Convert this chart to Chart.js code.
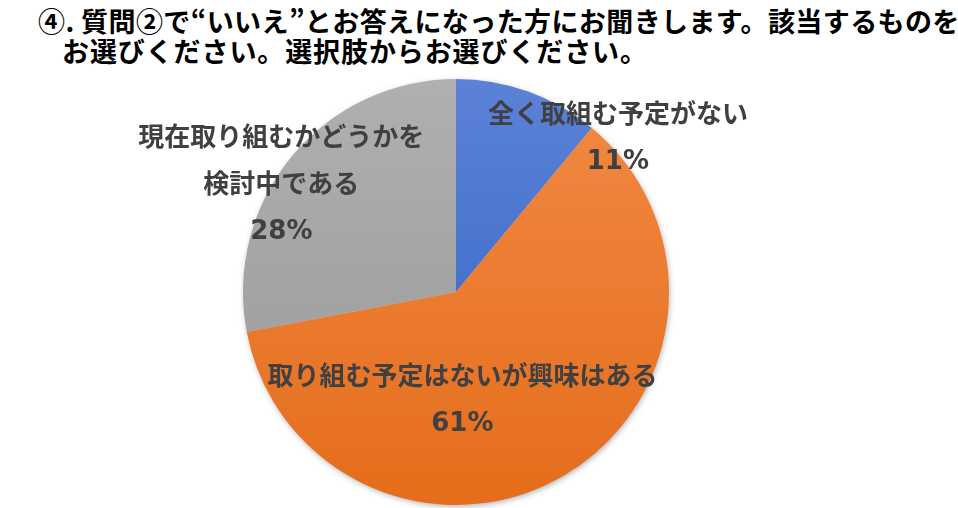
<!DOCTYPE html>
<html lang="ja">
<head>
<meta charset="utf-8">
<script src="https://cdn.jsdelivr.net/npm/chart.js@4/dist/chart.umd.min.js"></script>
<style>
	html, body { margin: 0; padding: 0; background: #fff; }
	#wrap { position: relative; width: 958px; height: 508px; overflow: hidden; }
	#titulo {
		position: absolute; left: 38px; top: 6px; margin: 0;
		font-family: "Noto Sans CJK JP", sans-serif; font-weight: bold;
		font-size: 27px; line-height: 30px; letter-spacing: 0.4px; color: #000; white-space: nowrap;
	}
	#titulo span { display: block; }
	#titulo .l2 { padding-left: 24px; letter-spacing: 0.9px; }
	canvas { position: absolute; left: 0; top: 0; }
</style>
</head>
<body>
<div id="wrap">
	<h1 id="titulo"><span>④. 質問②で“いいえ”とお答えになった方にお聞きします。該当するものを</span><span class="l2">お選びください。選択肢からお選びください。</span></h1>
	<canvas id="graficoPizza" width="958" height="508"></canvas>
</div>
<script>
// dados do grafico
var categorias = ['全く取組む予定がない', '取り組む予定はないが興味はある', '現在取り組むかどうかを\n検討中である'];
var valores = [11, 61, 28];
var rotulos = ['11%', '61%', '28%'];

// cores (topo -> base) de cada fatia
var coresTopo = ['#5c82d7', '#f28a45', '#b0b0b0'];
var coresBase = ['#2f61c4', '#e56d1b', '#979797'];
// posicao do rotulo em relacao ao centro, em unidades de raio
var posRotulos = [[0.76, -0.73], [0.03, 0.50], [-0.82, -0.51]];

function gradiente(context) {
	var chart = context.chart;
	var area = chart.chartArea;
	var i = context.dataIndex;
	if (!area) return coresTopo[i];
	var g = chart.ctx.createLinearGradient(0, area.top, 0, area.bottom);
	g.addColorStop(0, coresTopo[i]);
	g.addColorStop(1, coresBase[i]);
	return g;
}

var sombraPizza = {
	id: 'sombraPizza',
	beforeDatasetsDraw: function(chart) {
		var arco = chart.getDatasetMeta(0).data[0];
		if (!arco) return;
		var ctx = chart.ctx;
		ctx.save();
		ctx.shadowColor = 'rgba(0,0,0,0.35)';
		ctx.shadowBlur = 6;
		ctx.shadowOffsetX = 1;
		ctx.shadowOffsetY = 2;
		ctx.fillStyle = '#cccccc';
		ctx.beginPath();
		ctx.arc(arco.x, arco.y, arco.outerRadius - 1, 0, Math.PI * 2);
		ctx.fill();
		ctx.restore();
	}
};

var rotulosPizza = {
	id: 'rotulosPizza',
	afterDatasetsDraw: function(chart) {
		var ctx = chart.ctx;
		var meta = chart.getDatasetMeta(0);
		ctx.save();
		ctx.fillStyle = '#404040';
		ctx.textAlign = 'center';
		ctx.textBaseline = 'middle';
		meta.data.forEach(function(arco, i) {
			var r = arco.outerRadius;
			var cx = arco.x + posRotulos[i][0] * r;
			var cy = arco.y + posRotulos[i][1] * r;
			var linhas = chart.data.labels[i].split('\n');
			var alt = 47;
			var total = linhas.length + 1;
			var y0 = cy - (total - 1) * alt / 2;
			ctx.font = 'bold 26px "Noto Sans CJK JP", sans-serif';
			linhas.forEach(function(txt, k) {
				ctx.fillText(txt, cx, y0 + k * alt);
			});
			ctx.font = 'bold 26px "DejaVu Sans", sans-serif';
			ctx.fillText(rotulos[i], cx, y0 + linhas.length * alt + 2);
		});
		ctx.restore();
	}
};

var graficoPizza = new Chart(document.getElementById('graficoPizza').getContext('2d'), {
	type: 'pie',
	data: {
		labels: categorias,
		datasets: [{
			data: valores,
			backgroundColor: gradiente,
			borderWidth: 0,
			hoverOffset: 0
		}]
	},
	options: {
		responsive: false,
		animation: false,
		layout: { padding: { top: 79, bottom: 3, left: 0, right: 46 } },
		plugins: {
			legend: { display: false },
			tooltip: { enabled: false },
			title: { display: false }
		}
	},
	plugins: [sombraPizza, rotulosPizza]
});
</script>
</body>
</html>
